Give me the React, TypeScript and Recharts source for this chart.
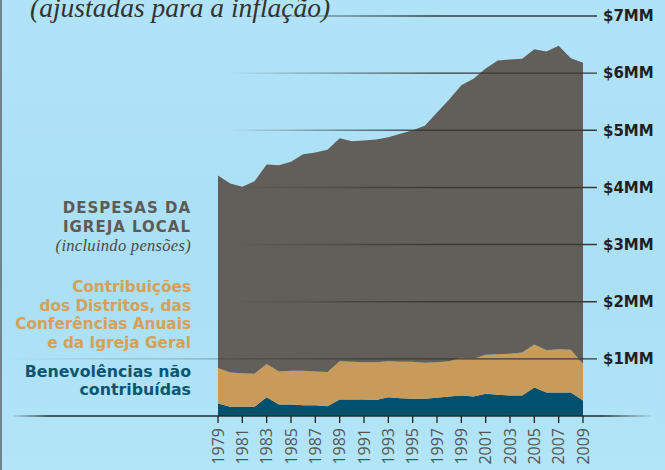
import React from "react";
import { AreaChart, Area, XAxis, YAxis, ReferenceLine } from "recharts";

// Igreja: despesas e contribuições, 1979–2009, em milhões de dólares (ajustadas para a inflação)
const years = [
  1979, 1980, 1981, 1982, 1983, 1984, 1985, 1986, 1987, 1988, 1989, 1990, 1991, 1992, 1993, 1994,
  1995, 1996, 1997, 1998, 1999, 2000, 2001, 2002, 2003, 2004, 2005, 2006, 2007, 2008, 2009,
];
const benevolencias = [
  0.22, 0.16, 0.16, 0.16, 0.33, 0.2, 0.2, 0.19, 0.19, 0.17, 0.29, 0.29, 0.29, 0.28, 0.33, 0.31,
  0.3, 0.3, 0.32, 0.34, 0.36, 0.34, 0.39, 0.37, 0.36, 0.36, 0.5, 0.41, 0.41, 0.41, 0.27,
];
const contribuicoes = [
  0.62, 0.6, 0.59, 0.58, 0.58, 0.58, 0.59, 0.6, 0.59, 0.6, 0.67, 0.66, 0.65, 0.66, 0.63, 0.64,
  0.65, 0.63, 0.62, 0.62, 0.66, 0.66, 0.68, 0.71, 0.73, 0.75, 0.75, 0.74, 0.76, 0.75, 0.64,
];
const despesas = [
  3.37, 3.31, 3.26, 3.37, 3.49, 3.61, 3.66, 3.79, 3.83, 3.89, 3.9, 3.86, 3.88, 3.9, 3.92, 3.99,
  4.05, 4.15, 4.37, 4.58, 4.77, 4.9, 5.01, 5.14, 5.15, 5.14, 5.17, 5.23, 5.31, 5.1, 5.27,
];
const xTicks = [1979, 1981, 1983, 1985, 1987, 1989, 1991, 1993, 1995, 1997, 1999, 2001, 2003, 2005, 2007, 2009];
const yTicks = [1, 2, 3, 4, 5, 6, 7];

const data = years.map((year, i) => ({
  year,
  benevolencias: benevolencias[i],
  contribuicoes: contribuicoes[i],
  despesas: despesas[i],
}));

const BOLD = "'DejaVu Sans', sans-serif";
const SERIF = "'Liberation Serif', serif";

function YearTick({ x, y, payload }: any) {
  return (
    <text
      x={x}
      y={y}
      dy="0.36em"
      transform={`rotate(-90, ${x}, ${y})`}
      textAnchor="end"
      fill="#555"
      fontFamily="'Open Sans', sans-serif"
      fontWeight={400}
      fontSize={16}
    >
      {payload.value}
    </text>
  );
}

export default function App() {
  return (
    <div
      style={{
        position: "absolute",
        left: 0,
        top: 0,
        width: 665,
        height: 470,
        overflow: "hidden",
        background: "linear-gradient(180deg, #b0e3f7 0%, #abdff4 60%, #b2e5f8 100%)",
      }}
    >
      <div style={{ position: "absolute", left: 0, top: 0, width: 2, height: 470, background: "#6f848d" }} />
      <AreaChart
        width={665}
        height={470}
        data={data}
        margin={{ top: 16, right: 0, bottom: 0, left: 218 }}
      >
        <defs>
          <linearGradient id="gridFade" gradientUnits="userSpaceOnUse" x1={230} y1={0} x2={440} y2={0}>
            <stop offset="0" stopColor="#3a3937" stopOpacity={0} />
            <stop offset="1" stopColor="#3a3937" stopOpacity={1} />
          </linearGradient>
          <linearGradient id="gridFar" gradientUnits="userSpaceOnUse" x1={0} y1={0} x2={440} y2={0}>
            <stop offset="0" stopColor="#3a3937" stopOpacity={0} />
            <stop offset="0.45" stopColor="#3a3937" stopOpacity={0.3} />
            <stop offset="1" stopColor="#3a3937" stopOpacity={1} />
          </linearGradient>
          <linearGradient id="axisFade" gradientUnits="userSpaceOnUse" x1={10} y1={0} x2={655} y2={0}>
            <stop offset="0" stopColor="#2a2a2a" stopOpacity={0} />
            <stop offset="0.06" stopColor="#2a2a2a" stopOpacity={1} />
            <stop offset="0.92" stopColor="#2a2a2a" stopOpacity={1} />
            <stop offset="1" stopColor="#2a2a2a" stopOpacity={0} />
          </linearGradient>
        </defs>
        <XAxis
          dataKey="year"
          type="number"
          domain={[1979, 2009]}
          ticks={xTicks}
          interval={0}
          height={54}
          axisLine={false}
          tickLine={{ stroke: "#222", strokeWidth: 1.3 }}
          tickSize={7}
          tickMargin={5}
          tick={<YearTick />}
        />
        <YAxis
          orientation="right"
          domain={[0, 7]}
          ticks={yTicks}
          width={82}
          axisLine={false}
          tickLine={false}
          tickSize={0}
          tickMargin={20}
          tickFormatter={(v: number) => `$${v}MM`}
          tick={{ fill: "#231f20", fontFamily: BOLD, fontWeight: 700, fontSize: 15 }}
        />
        <Area
          type="linear"
          dataKey="benevolencias"
          stackId="a"
          stroke="none"
          fill="#00506e"
          fillOpacity={1}
          isAnimationActive={false}
        />
        <Area
          type="linear"
          dataKey="contribuicoes"
          stackId="a"
          stroke="none"
          fill="#c99b5a"
          fillOpacity={1}
          isAnimationActive={false}
        />
        <Area
          type="linear"
          dataKey="despesas"
          stackId="a"
          stroke="none"
          fill="#625e59"
          fillOpacity={1}
          isAnimationActive={false}
        />
        {yTicks.map((v) => (
          <ReferenceLine
            key={v}
            segment={[
              { x: 1962, y: v },
              { x: 2010.15, y: v },
            ]}
            ifOverflow="visible"
            stroke={v === 1 ? "url(#gridFar)" : "url(#gridFade)"}
            strokeWidth={1.4}
          />
        ))}
        <ReferenceLine
          segment={[
            { x: 1962.2, y: 0 },
            { x: 2014.6, y: 0 },
          ]}
          ifOverflow="visible"
          stroke="url(#axisFade)"
          strokeWidth={1.4}
        />
      </AreaChart>
      <svg
        width={665}
        height={470}
        style={{ position: "absolute", left: 0, top: 0, pointerEvents: "none" }}
      >
        <text x={30} y={17} fontFamily={SERIF} fontStyle="italic" fontSize={27.5} fill="#333">
          (ajustadas para a inflação)
        </text>
        <g textAnchor="end" fontFamily={BOLD} fontWeight={700}>
          <g fill="#5e5a55" fontSize={15} letterSpacing={1}>
            <text x={191} y={212.7}>DESPESAS DA</text>
            <text x={191} y={232.3}>IGREJA LOCAL</text>
          </g>
          <text x={191} y={251} fontFamily={SERIF} fontStyle="italic" fontWeight={400} fontSize={16.5} letterSpacing={0.3} fill="#4a4a4a">
            (incluindo pensões)
          </text>
          <g fill="#d5a05a" fontSize={15.3}>
            <text x={191} y={291.7}>Contribuições</text>
            <text x={191} y={310.7}>dos Distritos, das</text>
            <text x={191} y={329}>Conferências Anuais</text>
            <text x={191} y={347.7}>e da Igreja Geral</text>
          </g>
          <g fill="#0b5572" fontSize={15.8}>
            <text x={191} y={377.3}>Benevolências não</text>
            <text x={191} y={395}>contribuídas</text>
          </g>
        </g>
      </svg>
    </div>
  );
}
